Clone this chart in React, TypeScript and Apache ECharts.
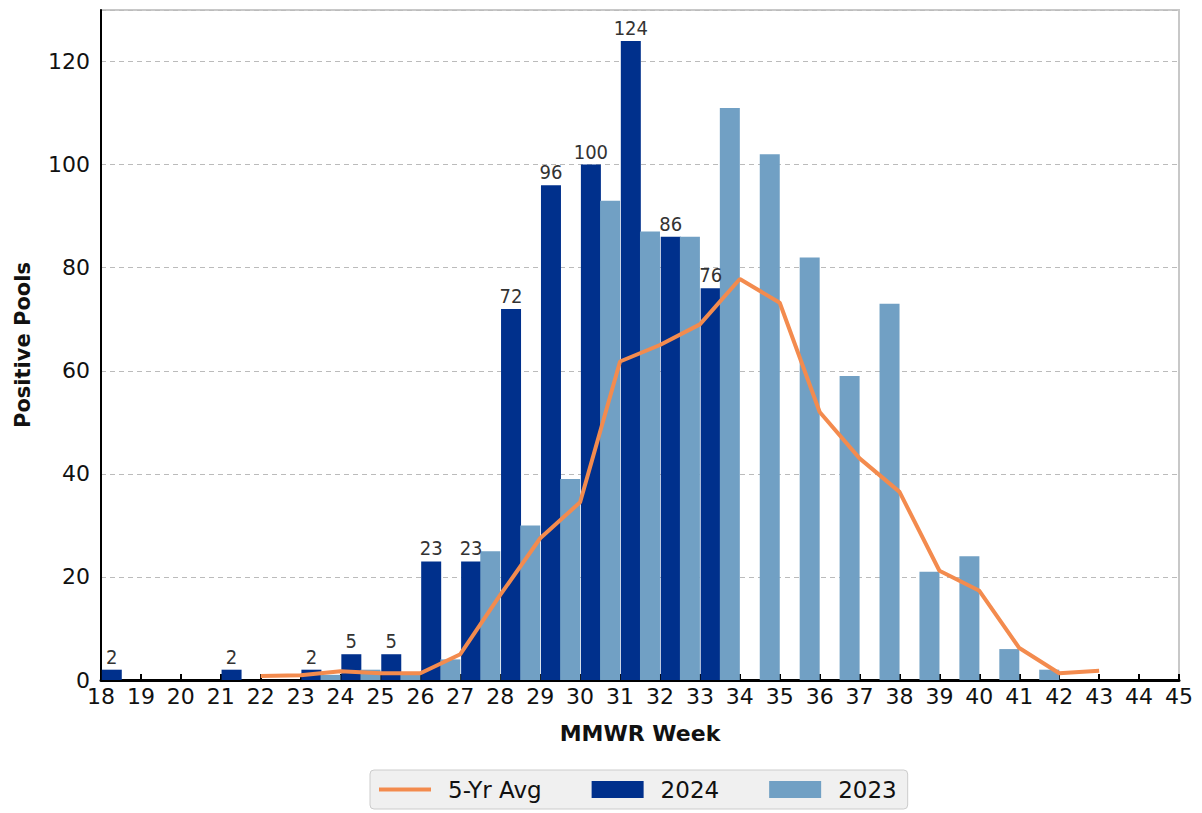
import React, { useEffect, useRef } from "react";
import * as echarts from "echarts";

const weeks2024 = [18, 21, 23, 24, 25, 26, 27, 28, 29, 30, 31, 32, 33];
const values2024 = [2, 2, 2, 5, 5, 23, 23, 72, 96, 100, 124, 86, 76];

const weeks2023 = [24, 25, 26, 27, 28, 29, 30, 31, 32, 33, 34, 35, 36, 37, 38, 39, 40, 41, 42];
const values2023 = [1, 2, 1, 4, 25, 30, 39, 93, 87, 86, 111, 102, 82, 59, 73, 21, 24, 6, 2];

const weeksAvg = [22, 23, 24, 25, 26, 27, 28, 29, 30, 31, 32, 33, 34, 35, 36, 37, 38, 39, 40, 41, 42, 43];
const valuesAvg = [0.8, 0.9, 1.7, 1.3, 1.3, 5, 16.5, 27.5, 34.5, 61.8, 65, 69, 77.8, 73.2, 52, 43, 36.5, 21.2, 17.3, 6.2, 1.3, 1.8];

const FONT = "'DejaVu Sans', 'Noto Sans', sans-serif";

export default function App() {
  const ref = useRef<HTMLDivElement>(null);
  useEffect(() => {
    if (!ref.current) return;
    const chart = echarts.init(ref.current, null, { renderer: "svg" });
    chart.setOption({
      animation: false,
      textStyle: { fontFamily: FONT },
      grid: {
        left: 101,
        right: 23,
        top: 10,
        bottom: 133,
        show: true,
        borderColor: "#c8c8c8",
        borderWidth: 2,
      },
      xAxis: {
        type: "value",
        min: 18,
        max: 45,
        interval: 1,
        name: "MMWR Week",
        nameLocation: "middle",
        nameGap: 42,
        nameTextStyle: { fontSize: 22, fontWeight: "bold", color: "#111", fontFamily: FONT },
        axisLine: { lineStyle: { color: "#000", width: 3 } },
        axisTick: { inside: true, length: 6, lineStyle: { color: "#000", width: 2 } },
        axisLabel: { fontSize: 22, color: "#111", margin: 5, fontFamily: FONT },
        splitLine: { show: false },
      },
      yAxis: {
        type: "value",
        min: 0,
        max: 130,
        interval: 20,
        name: "Positive Pools",
        nameLocation: "middle",
        nameGap: 68,
        nameTextStyle: { fontSize: 21, fontWeight: "bold", color: "#111", fontFamily: FONT },
        axisLine: { show: true, lineStyle: { color: "#000", width: 2 } },
        axisTick: { show: false },
        axisLabel: { fontSize: 22, color: "#111", margin: 11, showMaxLabel: false, fontFamily: FONT },
        splitLine: { show: true, lineStyle: { color: "#bbb", type: [5, 4], width: 1 } },
      },
      legend: {
        left: 370,
        top: 770,
        backgroundColor: "#f0f0f0",
        borderColor: "#cccccc",
        borderWidth: 1,
        borderRadius: 4,
        padding: [8, 11, 8, 7],
        itemWidth: 52,
        itemHeight: 17,
        itemGap: 50,
        textStyle: { fontSize: 23, color: "#111", fontFamily: FONT, padding: [0, 0, 0, 12] },
        data: [
          { name: "5-Yr Avg", itemStyle: { opacity: 0 }, lineStyle: { width: 4, color: "#f38b4e" } },
          { name: "2024", icon: "rect" },
          { name: "2023", icon: "rect" },
        ],
      },
      series: [
        {
          name: "2024",
          type: "bar",
          barWidth: 20,
          barGap: "-100%",
          itemStyle: { color: "#00308c" },
          label: {
            show: true,
            position: "top",
            distance: 3,
            fontSize: 20,
            color: "#333",
            fontFamily: "'DejaVu Sans Condensed', 'DejaVu Sans', sans-serif",
            formatter: (p: any) => String(p.value[1]),
          },
          data: weeks2024.map((w, i) => [w + 0.27, values2024[i]]),
          z: 2,
        },
        {
          name: "2023",
          type: "bar",
          barWidth: 20,
          barGap: "-100%",
          itemStyle: { color: "#71a0c4" },
          data: weeks2023.map((w, i) => [w - 0.25, values2023[i]]),
          z: 2,
        },
        {
          name: "5-Yr Avg",
          type: "line",
          symbol: "none",
          lineStyle: { color: "#f38b4e", width: 4 },
          itemStyle: { color: "#f38b4e" },
          data: weeksAvg.map((w, i) => [w, valuesAvg[i]]),
          z: 3,
        },
      ],
    });
    return () => chart.dispose();
  }, []);
  return (
    <div
      ref={ref}
      style={{ position: "fixed", left: 0, top: 0, width: 1202, height: 813, background: "#fff" }}
    />
  );
}
